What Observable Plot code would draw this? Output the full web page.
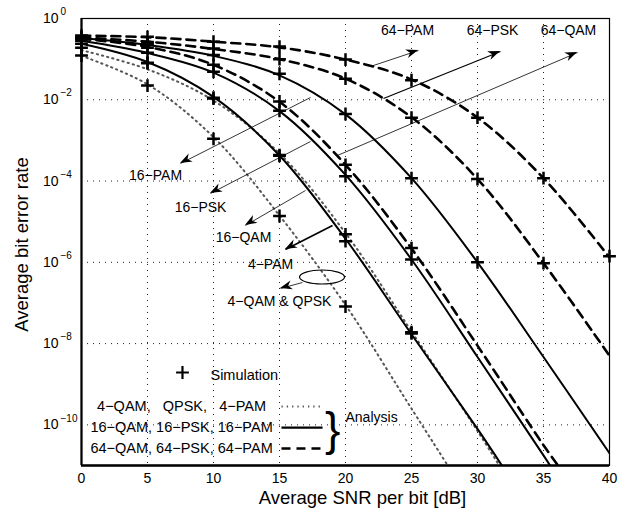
<!DOCTYPE html>
<html><head><meta charset="utf-8">
<script src="https://cdn.jsdelivr.net/npm/d3@7"></script>
<script src="https://cdn.jsdelivr.net/npm/@observablehq/plot@0.6"></script>
<style>
html,body{margin:0;padding:0;background:#fff;}
svg text{white-space:pre;}
</style></head><body><div id="chart"></div>
<script>
// ---------- DATA ----------
const xTicks = [0,5,10,15,20,25,30,35,40];
const yTickExponents = [0,-2,-4,-6,-8,-10];
const yTickExpLabels = ["0","\u22122","\u22124","\u22126","\u22128","\u221210"];

// Analysis curves: SNR per bit [dB] and log10(average BER)
const snr_4QAM  = [0,5,10,15,20,25,27.75];
const lb_4QAM   = [-0.92,-1.62,-2.92,-4.85,-7.05,-9.6,-11];
const snr_4PAM  = [0,5,10,15,20,25,30,31.65];
const lb_4PAM   = [-0.78,-1.25,-2.02,-3.32,-5.28,-7.7,-10.15,-11];
const snr_16QAM = [0,5,10,15,20,25,30,31.85];
const lb_16QAM  = [-0.62,-1.07,-1.93,-3.37,-5.42,-7.77,-10.1,-11];
const snr_16PSK = [0,5,10,15,20,25,30,35,35.5];
const lb_16PSK  = [-0.55,-0.85,-1.33,-2.28,-3.85,-5.93,-8.33,-10.75,-11];
const snr_16PAM = [0,5,10,15,20,25,30,35,40];
const lb_16PAM  = [-0.48,-0.65,-0.92,-1.4,-2.36,-3.93,-6.0,-8.33,-10.7];
const snr_64QAM = [0,5,10,15,20,25,30,35,36.1];
const lb_64QAM  = [-0.5,-0.7,-1.14,-2.05,-3.6,-5.66,-8.05,-10.5,-11];
const snr_64PSK = [0,5,10,15,20,25,30,35,40];
const lb_64PSK  = [-0.47,-0.57,-0.75,-1.0,-1.48,-2.43,-3.95,-6.02,-8.3];
const snr_64PAM = [0,5,10,15,20,25,30,35,40];
const lb_64PAM  = [-0.42,-0.46,-0.57,-0.71,-1.01,-1.5,-2.44,-3.93,-5.88];

// Simulation points (SNR = 0,5,10,... dB), log10(BER)
const snrSim = [0,5,10,15,20,25,30,35,40];
const sim_4QAM  = [-0.91,-1.65,-2.96,-4.86,-7.09];
const sim_4PAM  = [-0.72,-1.1,-1.97,-3.36,-5.31,-7.72];
const sim_16QAM = [-0.62,-1.09,-1.95,-3.38,-5.48,-7.75];
const sim_16PSK = [-0.55,-0.84,-1.31,-2.27,-3.88,-5.93];
const sim_16PAM = [-0.47,-0.62,-0.9,-1.36,-2.35,-3.93,-6.0];
const sim_64QAM = [-0.5,-0.72,-1.14,-2.04,-3.6,-5.65];
const sim_64PSK = [-0.47,-0.58,-0.74,-1.0,-1.48,-2.44,-3.95,-6.02];
const sim_64PAM = [-0.42,-0.45,-0.57,-0.69,-1.01,-1.52,-2.44,-3.93,-5.85];

// Curve annotations (text, anchor in data units: SNR dB, log10 BER)
const curveLabels   = ["64\u2212PAM","64\u2212PSK","64\u2212QAM","16\u2212PAM","16\u2212PSK","16\u2212QAM","4\u2212PAM","4\u2212QAM & QPSK"];
const curveLabelSnr = [24.7,31.14,36.89,5.61,9.02,12.27,14.32,15.0];
const curveLabelLb  = [-0.295,-0.295,-0.295,-3.864,-4.651,-5.389,-6.054,-6.964];
const arrowFromSnr  = [21.89,22.88,19.39,17.35,17.35,16.97,19.02,16.74];
const arrowFromLb   = [-1.181,-1.969,-3.371,-1.944,-3.027,-4.233,-5.094,-6.497];
const arrowToSnr    = [25.53,31.74,37.58,7.5,9.77,12.42,15.45,15.08];
const arrowToLb     = [-0.787,-0.812,-0.837,-3.568,-4.306,-5.094,-5.684,-6.644];
const ellipseSnr = 18.26, ellipseLb = -6.374;

// Legend texts
const legendSimText = "Simulation";
const legendEntries = ["4\u2212QAM,   QPSK,   4\u2212PAM", "16\u2212QAM, 16\u2212PSK, 16\u2212PAM", "64\u2212QAM, 64\u2212PSK, 64\u2212PAM"];
const legendAnalysisText = "Analysis";
const legendSimSnr = 7.65, legendSimLb = -8.711, legendSimTextSnr = 9.77;
const legendEntrySnr = 7.58;
const legendEntryLb = [-9.55,-10.07,-10.58];
const legendSampleSnr = [15.15, 18.26];
const legendBraceSnr = 19.02, legendBraceLb = -10.14;
const legendAnalysisSnr = 20.0, legendAnalysisLb = -9.82;

// ---------- DRAWING ----------
const rows = (name, xs, ls) => ls.map((l,i)=>({name, snr: xs[i], ber: Math.pow(10,l)}));
const dottedRows = [...rows("4-QAM", snr_4QAM, lb_4QAM), ...rows("4-PAM", snr_4PAM, lb_4PAM)];
const solidRows = [...rows("16-QAM", snr_16QAM, lb_16QAM), ...rows("16-PSK", snr_16PSK, lb_16PSK), ...rows("16-PAM", snr_16PAM, lb_16PAM)];
const dashedRows = [...rows("64-QAM", snr_64QAM, lb_64QAM), ...rows("64-PSK", snr_64PSK, lb_64PSK), ...rows("64-PAM", snr_64PAM, lb_64PAM)];
const simRows = [
  ...rows("4-QAM", snrSim, sim_4QAM), ...rows("4-PAM", snrSim, sim_4PAM),
  ...rows("16-QAM", snrSim, sim_16QAM), ...rows("16-PSK", snrSim, sim_16PSK), ...rows("16-PAM", snrSim, sim_16PAM),
  ...rows("64-QAM", snrSim, sim_64QAM), ...rows("64-PSK", snrSim, sim_64PSK), ...rows("64-PAM", snrSim, sim_64PAM)
];
const labelRows = curveLabels.map((t,i)=>({t, snr: curveLabelSnr[i], ber: Math.pow(10, curveLabelLb[i])}));
const arrowRows = curveLabels.map((t,i)=>({t, x1: arrowFromSnr[i], y1: Math.pow(10, arrowFromLb[i]), x2: arrowToSnr[i], y2: Math.pow(10, arrowToLb[i])}));
const arrowWidthOf = t => t === "64\u2212PSK" ? 1.3 : t === "4\u2212PAM" ? 1.6 : 0.8;
const legendLineRows = legendEntryLb.map((l,i)=>({i, y: Math.pow(10,l)}));
const P = v => Math.pow(10, v);

const font = "'Liberation Sans', Arial, Helvetica, sans-serif";
const chart = Plot.plot({
  width: 640, height: 518,
  marginLeft: 81, marginRight: 31, marginTop: 18, marginBottom: 53,
  style: {fontFamily: font, fontSize: "14px", background: "white", color: "black"},
  x: {domain: [0,40], ticks: xTicks, tickSize: 0, tickPadding: 8, label: null, tickFormat: d => String(d)},
  y: {type: "log", domain: [1e-11, 1], axis: null},
  marks: [
    Plot.ruleX(xTicks.filter(d => d > 0 && d < 40), {stroke: "#222", strokeWidth: 1, strokeDasharray: "1,5"}),
    Plot.ruleY(yTickExponents.filter(e => e < 0).map(P), {stroke: "#222", strokeWidth: 1, strokeDasharray: "1,5"}),
    Plot.line(dottedRows, {x: "snr", y: "ber", z: "name", stroke: "#555", strokeWidth: 2, strokeDasharray: "1.3,4", curve: "catmull-rom", clip: true}),
    Plot.line(solidRows, {x: "snr", y: "ber", z: "name", stroke: "black", strokeWidth: 2, curve: "catmull-rom", clip: true}),
    Plot.line(dashedRows, {x: "snr", y: "ber", z: "name", stroke: "black", strokeWidth: 2.6, strokeDasharray: "9,6", curve: "catmull-rom", clip: true}),
    Plot.dot(simRows, {x: "snr", y: "ber", symbol: "plus", r: 4.2, stroke: "black", strokeWidth: 2.5}),
    Plot.link(arrowRows, {x1: "x1", y1: "y1", x2: "x2", y2: "y2", stroke: "black", strokeWidth: d => arrowWidthOf(d.t)}),
    Plot.text(labelRows, {x: "snr", y: "ber", text: "t", fontSize: 14, fill: "black"}),
    // legend
    Plot.dot([0], {x: () => legendSimSnr, y: () => P(legendSimLb), symbol: "plus", r: 4.2, stroke: "black", strokeWidth: 2.2}),
    Plot.text([legendSimText], {x: () => legendSimTextSnr, y: () => P(legendSimLb - 0.07), text: d => d, textAnchor: "start", fontSize: 14.5}),
    Plot.text(legendEntries, {x: () => legendEntrySnr, y: (d,i) => P(legendEntryLb[i]), text: d => d, fontSize: 14.5}),
    Plot.link(legendLineRows.filter(d => d.i === 0), {x1: () => legendSampleSnr[0], x2: () => legendSampleSnr[1], y1: "y", y2: "y", stroke: "#555", strokeWidth: 2, strokeDasharray: "1.3,4"}),
    Plot.link(legendLineRows.filter(d => d.i === 1), {x1: () => legendSampleSnr[0], x2: () => legendSampleSnr[1], y1: "y", y2: "y", stroke: "black", strokeWidth: 2.2}),
    Plot.link(legendLineRows.filter(d => d.i === 2), {x1: () => legendSampleSnr[0], x2: () => legendSampleSnr[1], y1: "y", y2: "y", stroke: "black", strokeWidth: 2.6, strokeDasharray: "9,6"}),
    Plot.text(["}"], {x: () => legendBraceSnr, y: () => P(legendBraceLb), text: d => d, fontSize: 46}),
    Plot.text([legendAnalysisText], {x: () => legendAnalysisSnr, y: () => P(legendAnalysisLb), text: d => d, textAnchor: "start", fontSize: 14}),
    // frame
    Plot.frame({stroke: "black", strokeWidth: 1.2}),
    Plot.ruleX([0], {stroke: "black", strokeWidth: 2.2}),
    Plot.ruleY([1e-11], {stroke: "black", strokeWidth: 2.4}),
    // y tick labels 10^n
    Plot.text(yTickExponents, {y: e => P(e), text: () => "10", frameAnchor: "left", textAnchor: "end", dx: -23, fontSize: 14}),
    Plot.text(yTickExponents, {y: e => P(e), text: (e,i) => yTickExpLabels[i], frameAnchor: "left", textAnchor: "start", dx: -21, dy: -6.5, fontSize: 10}),
    // axis titles
    Plot.text(["Average bit error rate"], {text: d => d, frameAnchor: "left", textAnchor: "middle", rotate: -90, dx: -59, dy: 2.5, fontSize: 18.5}),
    Plot.text(["Average SNR per bit [dB]"], {text: d => d, frameAnchor: "bottom", textAnchor: "middle", dx: 17, dy: 38, fontSize: 18.5})
  ]
});
document.getElementById("chart").append(chart);

// filled arrowheads and the ellipse, positioned through the plot's scales
const sx = chart.scale("x"), sy = chart.scale("y");
const X = sx.apply ? v => sx.apply(v) : d3.scaleLinear(sx.domain, sx.range);
const Y = sy.apply ? v => sy.apply(v) : d3.scaleLog(sy.domain, sy.range);
const g = d3.select(chart).append("g");
arrowRows.forEach(a => {
  const tx = X(a.x2), ty = Y(a.y2), fx = X(a.x1), fy = Y(a.y1);
  const len = Math.hypot(tx - fx, ty - fy);
  const ux = (tx - fx) / len, uy = (ty - fy) / len, nx = -uy, ny = ux;
  const L = 12, W = 4.5;
  const pts = [[tx, ty], [tx - ux*L + nx*W, ty - uy*L + ny*W], [tx - ux*L*0.7, ty - uy*L*0.7], [tx - ux*L - nx*W, ty - uy*L - ny*W]];
  g.append("polygon").attr("points", pts.map(p => p.join(",")).join(" ")).attr("fill", "black");
});
g.append("ellipse").attr("cx", X(ellipseSnr)).attr("cy", Y(P(ellipseLb))).attr("rx", 22.5).attr("ry", 7)
  .attr("fill", "none").attr("stroke", "black").attr("stroke-width", 1.2);
</script></body></html>
